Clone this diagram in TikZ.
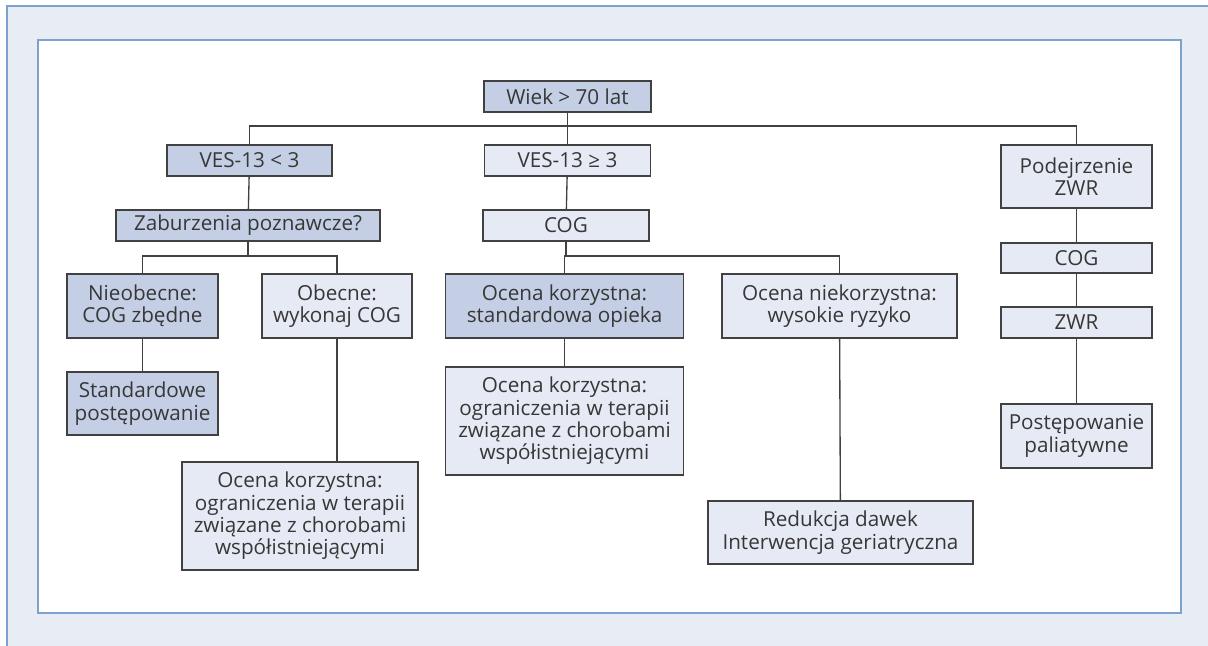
\documentclass[tikz,border=0pt]{standalone}
\usepackage{fontspec}
\setmainfont{Open Sans}
\usepackage{tikz}
\usetikzlibrary{positioning, calc}
\definecolor{bgblue}{RGB}{232,236,244}
\definecolor{frameblue}{RGB}{126,162,206}
\definecolor{darkfill}{RGB}{196,207,229}
\definecolor{lightfill}{RGB}{230,234,244}
\definecolor{textgray}{RGB}{55,55,55}
\definecolor{linegray}{RGB}{65,65,65}
\tikzset{
    box/.style={draw=linegray, line width=1.2pt, text=textgray, align=center,
      inner sep=0pt, font=\fontsize{15.5}{16.8}\selectfont},
    dark/.style={box, fill=darkfill},
    light/.style={box, fill=lightfill},
    sz/.style 2 args={minimum width=#1*0.75pt, minimum height=#2*0.75pt},
    link/.style={draw=linegray, line width=1pt},
}

\begin{document}
\begin{tikzpicture}[x=0.75pt, y=-0.75pt]
    \useasboundingbox (0,0) rectangle (1208,646);
    \fill[bgblue] (7,6) rectangle (1208,646);
    \draw[frameblue, line width=1.5pt] (7,646) -- (7,6) -- (1208,6);
    \draw[frameblue, line width=1.5pt, fill=white] (38,40) rectangle (1181,613);

    \node[dark, sz={167}{31}] (wiek) at (567.5,96.5) {Wiek > 70 lat};
    \node[dark, sz={165}{31}] (vesl) at (249.5,160.5) {VES-13 < 3};
    \node[light, sz={166}{31}] (vesg) at (567.5,160.5) {VES-13 ≥ 3};
    \node[light, sz={151}{63}] (podej) at (1076.5,176.5) {Podejrzenie\\ZWR};
    \node[dark, sz={264}{31}] (zab) at (248,225.5) {Zaburzenia poznawcze?};
    \node[light, sz={166}{31}] (cogm) at (566,225.5) {COG};
    \node[light, sz={151}{30}] (cogr) at (1076.5,258) {COG};
    \node[light, sz={151}{31}] (zwr) at (1076.5,322.5) {ZWR};
    \node[light, sz={151}{64}] (paliat) at (1076.5,436) {Postępowanie\\paliatywne};
    \node[dark, sz={151}{64}] (nieob) at (142.5,306) {Nieobecne:\\COG zbędne};
    \node[light, sz={150}{64}] (obec) at (337,306) {Obecne:\\wykonaj COG};
    \node[dark, sz={238}{64}] (stdop) at (564.5,306) {Ocena korzystna:\\standardowa opieka};
    \node[light, sz={235}{64}] (niekorz) at (839.5,306) {Ocena niekorzystna:\\wysokie ryzyko};
    \node[dark, sz={151}{63}] (standp) at (142.5,403.5) {Standardowe\\postępowanie};
    \node[light, sz={238}{108}] (ocenam) at (564.5,421) {Ocena korzystna:\\ograniczenia w terapii\\związane z chorobami\\współistniejącymi};
    \node[light, sz={236}{108}] (ocenal) at (300,516) {Ocena korzystna:\\ograniczenia w terapii\\związane z chorobami\\współistniejącymi};
    \node[light, sz={265}{63}] (reduk) at (840.5,532.5) {Redukcja dawek\\Interwencja geriatryczna};

    \coordinate (jtop) at (567.5,126);
    \coordinate (jzab) at (248,256);
    \coordinate (jcog) at (566,256);

    \draw[link] (wiek) -- (vesg);
    \draw[link] (vesl.north) |- (jtop) -| (podej.north);
    \draw[link] (vesl) -- (zab);
    \draw[link] (vesg) -- (cogm);
    \draw[link] (zab) -- (jzab);
    \draw[link] (nieob.north) |- (jzab) -| (obec.north);
    \draw[link] (cogm) -- (jcog);
    \draw[link] (stdop.north) |- (jcog) -| (niekorz.north);
    \draw[link] (nieob) -- (standp);
    \draw[link] (obec.south) -- (obec.south |- ocenal.north);
    \draw[link] (stdop) -- (ocenam);
    \draw[link] (niekorz) -- (reduk);
    \draw[link] (podej) -- (cogr);
    \draw[link] (cogr) -- (zwr);
    \draw[link] (zwr) -- (paliat);
\end{tikzpicture}
\end{document}
